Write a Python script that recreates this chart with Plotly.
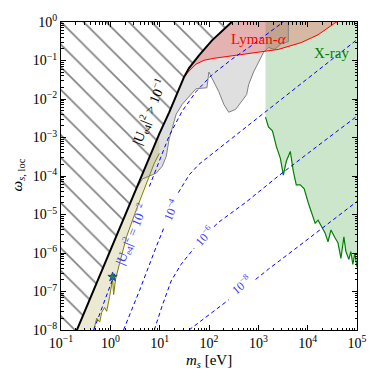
import plotly.graph_objects as go

# ---------------- data ----------------
# |U_e4|^2 > 0.1 boundary (thick black line)
black_m = [0.2, 1.0, 7.1, 9.82, 15.6, 24.8, 31.3, 39.4, 62.7, 114, 229, 289]
black_w = [8.6e-9, 1.17e-6, 4.6e-4, 1.24e-3, 4.5e-3, 1.85e-2, 0.0374, 0.0635, 0.136, 0.328, 0.79, 1.0]

# olive (khaki region) edge
olive_m = [0.461, 0.530, 0.610, 0.668, 0.767, 0.843, 0.968, 1.11, 1.165, 1.28, 1.54, 2.13, 3.38, 5.37, 7.78, 9.82]
olive_w = [1e-8, 2.02e-8, 1.60e-8, 2.88e-8, 3.85e-8, 3.05e-8, 7.35e-8, 2.11e-7, 8.26e-8, 2.11e-7, 5.40e-7,
           2.63e-6, 1.36e-5, 6.63e-5, 2.14e-4, 3.86e-4]

# gray region lower edge
gray_m = [1.94, 3.38, 4.47, 6.18, 8.55, 11.3, 13.6, 15.6, 17.9, 21.6, 28.5, 43.2, 54.5, 90.8, 99.5, 114, 158,
          200, 251, 348, 459, 579, 635, 800, 1009, 1273, 1603, 2118, 2930, 4055, 4055]
gray_w = [8.8e-6, 4.67e-5, 8.39e-5, 1.0e-4, 1.19e-4, 1.80e-4, 3.23e-4, 9.29e-4, 1.67e-3, 4.03e-3, 7.24e-3,
          0.0130, 0.0185, 0.0196, 0.0502, 0.0353, 0.0155, 7.24e-3, 4.53e-3, 5.40e-3, 8.63e-3, 0.0130, 0.0234,
          0.0502, 0.0902, 0.162, 0.218, 0.194, 0.275, 0.309, 1.0]

# Lyman-alpha edge
lyman_m = [31.3, 39.4, 54.5, 78.9, 126, 348, 1159, 2547, 7400, 16260, 35730, 39260]
lyman_w = [0.0374, 0.0532, 0.0802, 0.1015, 0.114, 0.136, 0.162, 0.194, 0.292, 0.466, 0.944, 1.0]

# X-ray edge
xray_m = [1396, 1604, 1931, 2323, 2797, 3214, 3693, 4446, 5109, 5870, 7066, 8507, 10230, 11760, 14160,
          16270, 18690, 22500, 25850, 29700, 35760, 41080, 47200, 54230, 59540, 68400, 75060, 82360, 90310, 1e5]
xray_w = [3.38e-3, 1.88e-3, 1.49e-3, 5.81e-4, 2.88e-4, 1.06e-4, 2.41e-4, 4.34e-4, 1.34e-4, 5.90e-5, 5.90e-5,
          4.67e-5, 2.05e-5, 1.14e-5, 5.98e-6, 7.14e-6, 5.02e-6, 3.33e-6, 1.96e-6, 3.97e-6, 2.48e-6, 1.85e-6,
          7.24e-7, 2.63e-6, 1.09e-6, 6.83e-7, 1.09e-6, 5.09e-7, 9.71e-7, 4.28e-7]

# |U_e4|^2 contours (dashed), None = gap under the inline label
u2_m = [0.461, 1.06, 1.28, None, 6.18, 8.55, 15.6, 28.5, 54.5, 114, 289, 730, 1845, 3214]
u2_w = [1e-8, 1.88e-7, 3.38e-7, None, 5.34e-5, 1.60e-4, 1.11e-3, 4.81e-3, 0.0155, 0.0421, 0.1076, 0.245, 0.590, 1.0]
u4_m = [1.85, 3.89, 8.55, 12.6, None, 23.9, 39.4, 62.7, 125.6, 251, 1009, 4055, 16260, 1e5]
u4_w = [1e-8, 1.045e-7, 1.47e-6, 5.02e-6, None, 3.69e-5, 1.06e-4, 2.02e-4, 4.09e-4, 8.26e-4, 3.38e-3, 0.0138,
        0.0565, 0.348]
u6_m = [7.78, 11.3, 17.1, 27.2, 39.4, 49.7, None, 126, 158, 552, 2547, 16260, 1e5]
u6_w = [1e-8, 4.34e-8, 1.88e-7, 5.09e-7, 9.16e-7, 1.32e-6, None, 4.82e-6, 6.35e-6, 2.05e-5, 1.0e-4, 6.16e-4, 3.58e-3]
u8_m = [39.4, 158, 251, None, 879, 1603, 6440, 25800, 1e5]
u8_w = [1e-8, 3.85e-8, 6.09e-8, None, 2.06e-7, 3.80e-7, 1.47e-6, 5.65e-6, 2.18e-5]

star_m = [1.11]
star_w = [2.4e-7]

x_exps = [-1, 0, 1, 2, 3, 4, 5]
y_exps = [-8, -7, -6, -5, -4, -3, -2, -1, 0]

# ---------------- figure ----------------
SERIF = "Liberation Serif"
fig = go.Figure()

# gray region
gx = gray_m + [m for m in reversed(black_m) if m > gray_m[0]] + [gray_m[0]]
gy = gray_w + [w for m, w in zip(reversed(black_m), reversed(black_w)) if m > gray_m[0]] + [gray_w[0]]
fig.add_trace(go.Scatter(x=gx, y=gy, fill="toself", fillcolor="rgba(128,128,128,0.25)",
                         line=dict(width=0), mode="lines", hoverinfo="skip"))

# khaki region
kx = [m for m in black_m if m <= olive_m[-1]] + list(reversed(olive_m))
ky = [w for m, w in zip(black_m, black_w) if m <= olive_m[-1]] + list(reversed(olive_w))
fig.add_trace(go.Scatter(x=kx, y=ky, fill="toself", fillcolor="rgba(189,183,107,0.3)",
                         line=dict(width=0), mode="lines", hoverinfo="skip"))

# X-ray region
xx = [xray_m[0]] + xray_m + [xray_m[-1]]
xy = [1.0] + xray_w + [1.0]
fig.add_trace(go.Scatter(x=xx, y=xy, fill="toself", fillcolor="rgba(0,128,0,0.2)",
                         line=dict(width=0), mode="lines", hoverinfo="skip"))

# Lyman-alpha region
lx = lyman_m + [m for m in reversed(black_m) if m >= lyman_m[0]]
ly = lyman_w + [w for m, w in zip(reversed(black_m), reversed(black_w)) if m >= lyman_m[0]]
fig.add_trace(go.Scatter(x=lx, y=ly, fill="toself", fillcolor="rgba(255,0,0,0.2)",
                         line=dict(width=0), mode="lines", hoverinfo="skip"))

# hatched excluded region
hx = black_m + [0.1, 0.1]
hy = black_w + [1.0, black_w[0]]
fig.add_trace(go.Scatter(x=hx, y=hy, fill="toself", fillcolor="rgba(255,255,255,0)",
                         fillpattern=dict(shape="\\", fgcolor="black", bgcolor="rgba(255,255,255,0)",
                                          size=16, solidity=0.1),
                         line=dict(width=0), mode="lines", hoverinfo="skip"))

# edges
fig.add_trace(go.Scatter(x=gray_m, y=gray_w, mode="lines", line=dict(color="gray", width=1)))
fig.add_trace(go.Scatter(x=olive_m, y=olive_w, mode="lines", line=dict(color="olive", width=1)))
fig.add_trace(go.Scatter(x=lyman_m, y=lyman_w, mode="lines", line=dict(color="red", width=1)))
fig.add_trace(go.Scatter(x=xray_m, y=xray_w, mode="lines", line=dict(color="green", width=1.2)))

for um, uw in [(u2_m, u2_w), (u4_m, u4_w), (u6_m, u6_w), (u8_m, u8_w)]:
    fig.add_trace(go.Scatter(x=um, y=uw, mode="lines",
                             line=dict(color="blue", width=1, dash="4px,3px")))

fig.add_trace(go.Scatter(x=black_m, y=black_w, mode="lines", line=dict(color="black", width=2)))

fig.add_trace(go.Scatter(x=star_m, y=star_w, mode="markers",
                         marker=dict(symbol="star", size=7, color="#1f8a3a",
                                     line=dict(color="#2040b0", width=1))))

# axes
def sup(e):
    return "10<sup>%s</sup>" % (str(e).replace("-", "\u2212"))

axis_common = dict(type="log", showgrid=False, zeroline=False, showline=True, linecolor="black",
                   linewidth=1, mirror="allticks", ticks="inside", ticklen=5, tickcolor="black",
                   tickfont=dict(family=SERIF, size=14, color="black"))

fig.update_xaxes(range=[-1, 5], tickvals=[10.0 ** e for e in x_exps], ticktext=[sup(e) for e in x_exps],
                 minor=dict(ticks="inside", ticklen=2.5, tickcolor="black",
                            tickvals=[k * 10.0 ** e for e in x_exps[:-1] for k in range(2, 10)]),
                 **axis_common)
fig.update_yaxes(range=[-8, 0], tickvals=[10.0 ** e for e in y_exps], ticktext=[sup(e) for e in y_exps],
                 minor=dict(ticks="inside", ticklen=2.5, tickcolor="black",
                            tickvals=[k * 10.0 ** e for e in y_exps[:-1] for k in range(2, 10)]),
                 **axis_common)

ann = []
ann.append(dict(x=0.791, y=-2.344, xref="x", yref="y", text="|U<sub>e4</sub>|<sup>2</sup> > 10<sup>\u22121</sup>",
                textangle=-68, showarrow=False, font=dict(family=SERIF, size=14, color="black")))
ann.append(dict(x=0.429, y=-5.503, xref="x", yref="y", text="|U<sub>e4</sub>|<sup>2</sup> = 10<sup>\u22122</sup>",
                textangle=-68, showarrow=False, font=dict(family=SERIF, size=13, color="#3a3aff")))
ann.append(dict(x=1.233, y=-4.866, xref="x", yref="y", text="10<sup>\u22124</sup>",
                textangle=-66, showarrow=False, font=dict(family=SERIF, size=12, color="#3a3aff")))
ann.append(dict(x=1.918, y=-5.554, xref="x", yref="y", text="10<sup>\u22126</sup>",
                textangle=-48, showarrow=False, font=dict(family=SERIF, size=12, color="#3a3aff")))
ann.append(dict(x=2.662, y=-6.828, xref="x", yref="y", text="10<sup>\u22128</sup>",
                textangle=-40, showarrow=False, font=dict(family=SERIF, size=12, color="#3a3aff")))
ann.append(dict(x=3.004, y=-0.45, xref="x", yref="y", text="Lyman-<i>\u03b1</i>",
                showarrow=False, font=dict(family=SERIF, size=15, color="red")))
ann.append(dict(x=4.493, y=-0.80, xref="x", yref="y", text="X-ray",
                showarrow=False, font=dict(family=SERIF, size=15, color="green")))
ann.append(dict(x=0.5, y=-0.102, xref="paper", yref="paper", xanchor="center", yanchor="middle",
                text="<i>m<sub>s</sub></i> [eV]",
                showarrow=False, font=dict(family=SERIF, size=15, color="black")))
ann.append(dict(x=-0.144, y=0.503, xref="paper", yref="paper", xanchor="center", yanchor="middle",
                text="<i>\u03c9<sub>s</sub></i><sub>, loc</sub>",
                textangle=-90, showarrow=False, font=dict(family=SERIF, size=15, color="black")))

fig.update_layout(width=379, height=379, margin=dict(l=61, r=20, t=16, b=49),
                  plot_bgcolor="white", paper_bgcolor="white", showlegend=False,
                  annotations=ann)

fig.write_html("out.html", post_script="document.body.style.margin='0px';",
               config={"displayModeBar": False})
